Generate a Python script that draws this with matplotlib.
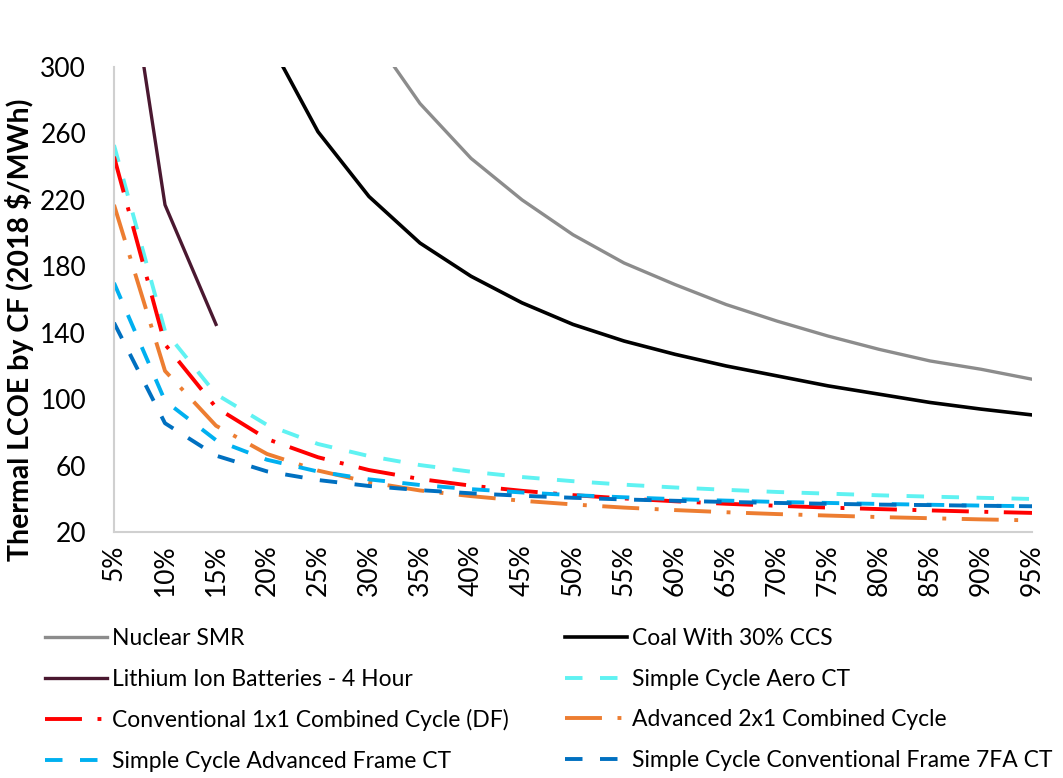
import matplotlib
matplotlib.use("Agg")
import matplotlib.pyplot as plt
import numpy as np

plt.rcParams["font.family"] = ["Lato", "DejaVu Sans"]

# capacity factors on the x axis
cf_labels = ["5%", "10%", "15%", "20%", "25%", "30%", "35%", "40%", "45%", "50%",
             "55%", "60%", "65%", "70%", "75%", "80%", "85%", "90%", "95%"]

nan = np.nan
nuclear_smr = [nan, nan, nan, nan, 383, 322, 278, 245, 220, 199,
               182, 169, 157, 147, 138, 130, 123, 118, 112]
coal_30_ccs = [nan, nan, nan, 318, 261, 222, 194, 174, 158, 145,
               135, 127, 120, 114, 108, 103, 98, 94, 90.5]
li_ion_4h = [418, 217, 145, nan, nan, nan, nan, nan, nan, nan,
             nan, nan, nan, nan, nan, nan, nan, nan, nan]
aero_ct = [253, 141, 103, 84.5, 73, 65.7, 60.3, 56.3, 53.1, 50.6,
           48.5, 46.8, 45.4, 44.1, 43.1, 42.1, 41.3, 40.6, 39.9]
conv_1x1_cc = [246, 133, 95, 76, 65, 57.3, 51.9, 47.9, 44.8, 42.2,
               40.2, 38.5, 37, 35.8, 34.7, 33.8, 33, 32.2, 31.5]
adv_2x1_cc = [217, 117, 84, 67, 57, 50, 45, 41.6, 38.8, 36.6,
              34.7, 33.2, 31.9, 30.8, 29.9, 29, 28.3, 27.6, 27]
adv_frame_ct = [170, 99, 75.3, 63.5, 56.4, 51.7, 48.3, 45.8, 43.8, 42.2,
                40.9, 39.8, 38.9, 38.1, 37.5, 36.9, 36.4, 35.9, 35.5]
conv_7fa_ct = [146, 85.5, 66, 56.5, 51.3, 47.7, 45.2, 43.3, 41.8, 40.6,
               39.6, 38.8, 38.1, 37.5, 37, 36.5, 36.2, 35.8, 35.5]

y_ticks = [20, 60, 100, 140, 180, 220, 260, 300]

dash = (4.5, 4.5)
dash_dot = (9.5, 4, 1, 4)

series = [
    ("Nuclear SMR", nuclear_smr, "#8C8C8C", None, 2.4),
    ("Coal With 30% CCS", coal_30_ccs, "#000000", None, 2.6),
    ("Lithium Ion Batteries - 4 Hour", li_ion_4h, "#4A1830", None, 2.4),
    ("Simple Cycle Aero CT", aero_ct, "#5FF2F2", dash, 2.8),
    ("Conventional 1x1 Combined Cycle (DF)", conv_1x1_cc, "#FF0000", dash_dot, 2.8),
    ("Advanced 2x1 Combined Cycle", adv_2x1_cc, "#ED7D31", dash_dot, 2.8),
    ("Simple Cycle Advanced Frame CT", adv_frame_ct, "#00B0F0", dash, 2.8),
    ("Simple Cycle Conventional Frame 7FA CT", conv_7fa_ct, "#0070C0", dash, 2.8),
]

fig = plt.figure(figsize=(10.63, 7.78), dpi=100)
ax = fig.add_axes([114 / 1063, 1 - 532 / 778, (1032 - 114) / 1063, (532 - 67) / 778])

x = np.arange(len(cf_labels))
handles = {}
for name, vals, color, style, lw in series:
    (ln,) = ax.plot(x, vals, color=color, lw=lw, label=name)
    if style is not None:
        ln.set_dashes(style)
    handles[name] = ln

ax.set_xlim(0, len(cf_labels) - 1)
ax.set_ylim(20, 300)
ax.set_yticks(y_ticks)
ax.set_xticks(x)
ax.set_xticklabels(cf_labels, rotation=90)
ax.tick_params(axis="both", length=0, labelsize=19)
ax.tick_params(axis="y", pad=20)
ax.tick_params(axis="x", pad=9)
for side in ["top", "right"]:
    ax.spines[side].set_visible(False)
for side in ["left", "bottom"]:
    ax.spines[side].set_color("#D0D0D0")
    ax.spines[side].set_linewidth(1.5)
ax.set_ylabel("Thermal LCOE by CF (2018 $/MWh)", fontsize=20.5, fontweight="bold")
ax.yaxis.set_label_coords(-0.087, 0.434)

col1 = ["Nuclear SMR", "Lithium Ion Batteries - 4 Hour",
        "Conventional 1x1 Combined Cycle (DF)", "Simple Cycle Advanced Frame CT"]
col2 = ["Coal With 30% CCS", "Simple Cycle Aero CT",
        "Advanced 2x1 Combined Cycle", "Simple Cycle Conventional Frame 7FA CT"]
for names, x0 in [(col1, 36 / 1063), (col2, 556 / 1063)]:
    fig.legend([handles[n] for n in names], names, loc="upper left",
               bbox_to_anchor=(x0, 1 - 619 / 778), frameon=False, fontsize=16.5,
               handlelength=2.7, handletextpad=0.2, labelspacing=0.85,
               borderaxespad=0)

fig.savefig("out.png", dpi=100)
